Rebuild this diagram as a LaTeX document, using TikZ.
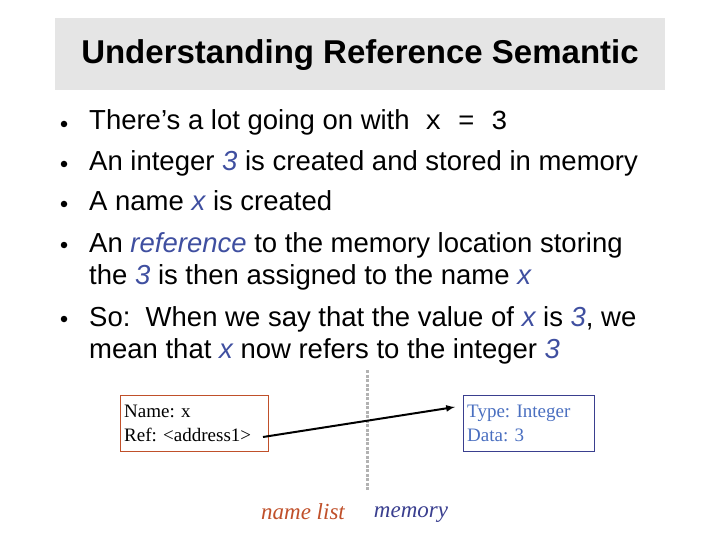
\documentclass[tikz,border=0pt]{standalone}
\usepackage{fontspec}
\setmainfont{Liberation Sans}
\newfontfamily\serif{Liberation Serif}
\newfontfamily\mono{Liberation Mono}
\definecolor{hl}{HTML}{3F4FA0}
\definecolor{org}{HTML}{C0502A}
\definecolor{blu}{HTML}{3A3F8F}
\definecolor{lblu}{HTML}{4A6FC0}
\begin{document}
\begin{tikzpicture}[x=1pt,y=-1pt,
  bul/.style={anchor=base west,font=\fontsize{27.5}{30}\selectfont,inner sep=0},
  dot/.style={circle,fill=black,inner sep=0,minimum size=6.5pt},
  mbox/.style={draw,thin,align=flush left,font=\serif\fontsize{19}{24}\selectfont,inner sep=4pt,anchor=north west,minimum height=56pt,text width=#1}]
\useasboundingbox (0,0) rectangle (720,540);
\node[fill=black!10,minimum width=610pt,minimum height=72pt,anchor=north west] (tb) at (55,18) {};
\node[font=\bfseries\fontsize{33}{36}\selectfont] (title) at (360,55) {Understanding Reference Semantic};
\node[dot] (d1) at (64,124) {};
\node[bul] (b1) at (89,130) {There’s a lot going on with \ {\mono x = 3}};
\node[dot] (d2) at (64,164) {};
\node[bul] (b2) at (89,171) {An integer \textcolor{hl}{\itshape 3} is created and stored in memory};
\node[dot] (d3) at (64,204) {};
\node[bul] (b3) at (89,211) {A name \textcolor{hl}{\itshape x} is created};
\node[dot] (d4) at (64,245) {};
\node[bul] (b4) at (89,252) {An \textcolor{hl}{\itshape reference} to the memory location storing};
\node[bul] (b4b) at (89,284) {the \textcolor{hl}{\itshape 3} is then assigned to the name \textcolor{hl}{\itshape x}};
\node[dot] (d5) at (64,319) {};
\node[bul] (b5) at (89,326) {So:\ \ When we say that the value of \textcolor{hl}{\itshape x} is \textcolor{hl}{\itshape 3}, we};
\node[bul] (b5b) at (89,358) {mean that \textcolor{hl}{\itshape x} now refers to the integer \textcolor{hl}{\itshape 3}};
\coordinate (vt) at (367,370);
\coordinate (vb) at (367,490);
\draw[black!30,line width=3pt,dash pattern=on 3pt off 1.5pt] (vt) -- (vb);
\node[mbox=140pt,draw=org] (nb) at (120,395) {Name: x\\Ref: <address1>};
\node[mbox=123pt,draw=blu,text=lblu] (mb) at (463,395) {Type: Integer\\Data: 3};
\coordinate (s) at (263,437);
\coordinate (e) at (455,407);
\draw[line width=2pt,-latex] (s) -- (e);
\node[font=\serif\itshape\fontsize{23}{24}\selectfont,text=org,anchor=base] (nl) at (303,519) {name list};
\node[font=\serif\itshape\fontsize{23}{24}\selectfont,text=blu,anchor=base] (mem) at (411,517) {memory};
\end{tikzpicture}
\end{document}
